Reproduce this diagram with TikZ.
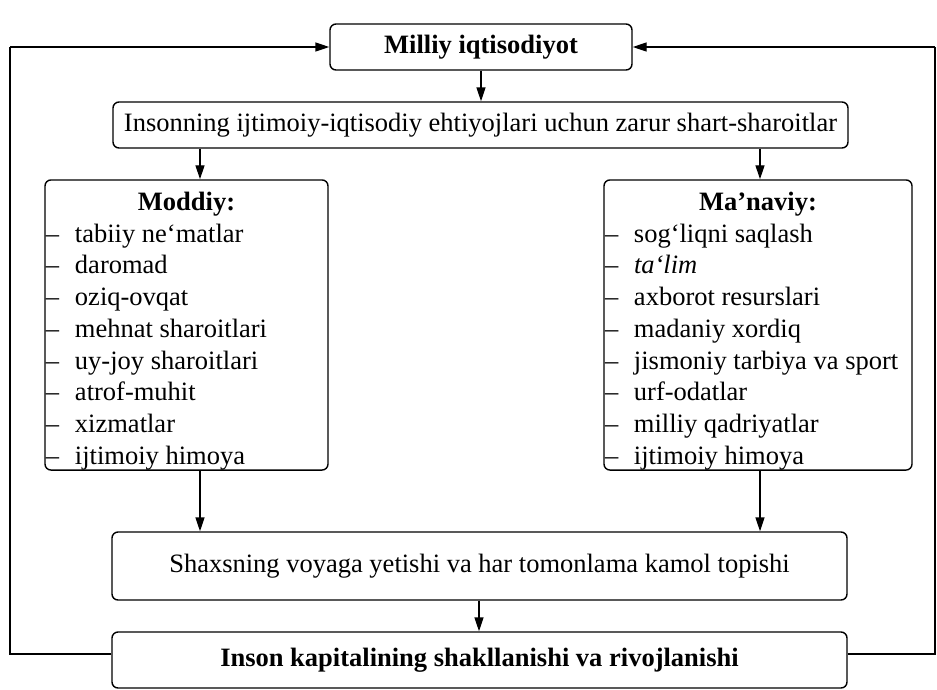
\documentclass[tikz,border=0pt]{standalone}
\usepackage{fontspec}
\setmainfont{Liberation Serif}
\usetikzlibrary{arrows.meta}
\newcommand{\itm}[1]{\hspace*{1pt}\makebox[29pt][l]{–}#1\par}
\begin{document}
\begin{tikzpicture}[x=1pt,y=-1pt,
  box/.style={draw, line width=1.4pt, rounded corners=6pt, inner sep=0pt, align=center},
  arr/.style={line width=1.4pt, -{Triangle[length=14pt,width=9pt]}},
  fb/.style={line width=1.4pt},
  every node/.style={font=\fontsize{26.5}{31.75}\selectfont}]
\useasboundingbox (0,0) rectangle (937,689);
\node[box, minimum width=302pt, minimum height=46pt] (top) at (481,47) {\textbf{Milliy iqtisodiyot}};
\node[box, minimum width=735pt, minimum height=46pt] (sec) at (480.5,125) {Insonning ijtimoiy-iqtisodiy ehtiyojlari uchun zarur shart-sharoitlar};
\node[box, minimum width=283pt, minimum height=290pt] (mod) at (186.5,325) {%
  \begin{minipage}{283pt}\fontsize{26.5}{31.75}\selectfont
  \vspace*{12pt}
  \centering\textbf{Moddiy:}\par\raggedright
  \itm{tabiiy ne‘matlar}
  \itm{daromad}
  \itm{oziq-ovqat}
  \itm{mehnat sharoitlari}
  \itm{uy-joy sharoitlari}
  \itm{atrof-muhit}
  \itm{xizmatlar}
  \itm{ijtimoiy himoya}
  \end{minipage}};
\node[box, minimum width=308pt, minimum height=290pt] (man) at (758,325) {%
  \begin{minipage}{308pt}\fontsize{26.5}{31.75}\selectfont
  \vspace*{12pt}
  \centering\textbf{Ma’naviy:}\par\raggedright
  \itm{sog‘liqni saqlash}
  \itm{\textit{ta‘lim}}
  \itm{axborot resurslari}
  \itm{madaniy xordiq}
  \itm{jismoniy tarbiya va sport}
  \itm{urf-odatlar}
  \itm{milliy qadriyatlar}
  \itm{ijtimoiy himoya}
  \end{minipage}};
\node[box, minimum width=735pt, minimum height=68pt] (shax) at (479.5,566) {Shaxsning voyaga yetishi va har tomonlama kamol topishi};
\node[box, minimum width=735pt, minimum height=56pt] (ins) at (479.5,660) {\raisebox{6pt}{\textbf{Inson kapitalining shakllanishi va rivojlanishi}}};
\coordinate (xl) at (200,0);
\coordinate (xr) at (760,0);
\coordinate (xm) at (479,0);
\coordinate (L1) at (10,654);
\coordinate (L2) at (10,47);
\coordinate (R1) at (935,654);
\coordinate (R2) at (935,47);
\draw[arr] (top.south) -- (sec.north -| top.south);
\draw[arr] (sec.south -| xl) -- (mod.north -| xl);
\draw[arr] (sec.south -| xr) -- (man.north -| xr);
\draw[arr] (mod.south -| xl) -- (shax.north -| xl);
\draw[arr] (man.south -| xr) -- (shax.north -| xr);
\draw[arr] (shax.south -| xm) -- (ins.north -| xm);
\draw[fb] (L1 -| ins.west) -- (L1) -- (L2);
\draw[arr] (L2) -- (top.west);
\draw[fb] (R1 -| ins.east) -- (R1) -- (R2);
\draw[arr] (R2) -- (top.east);
\end{tikzpicture}
\end{document}
